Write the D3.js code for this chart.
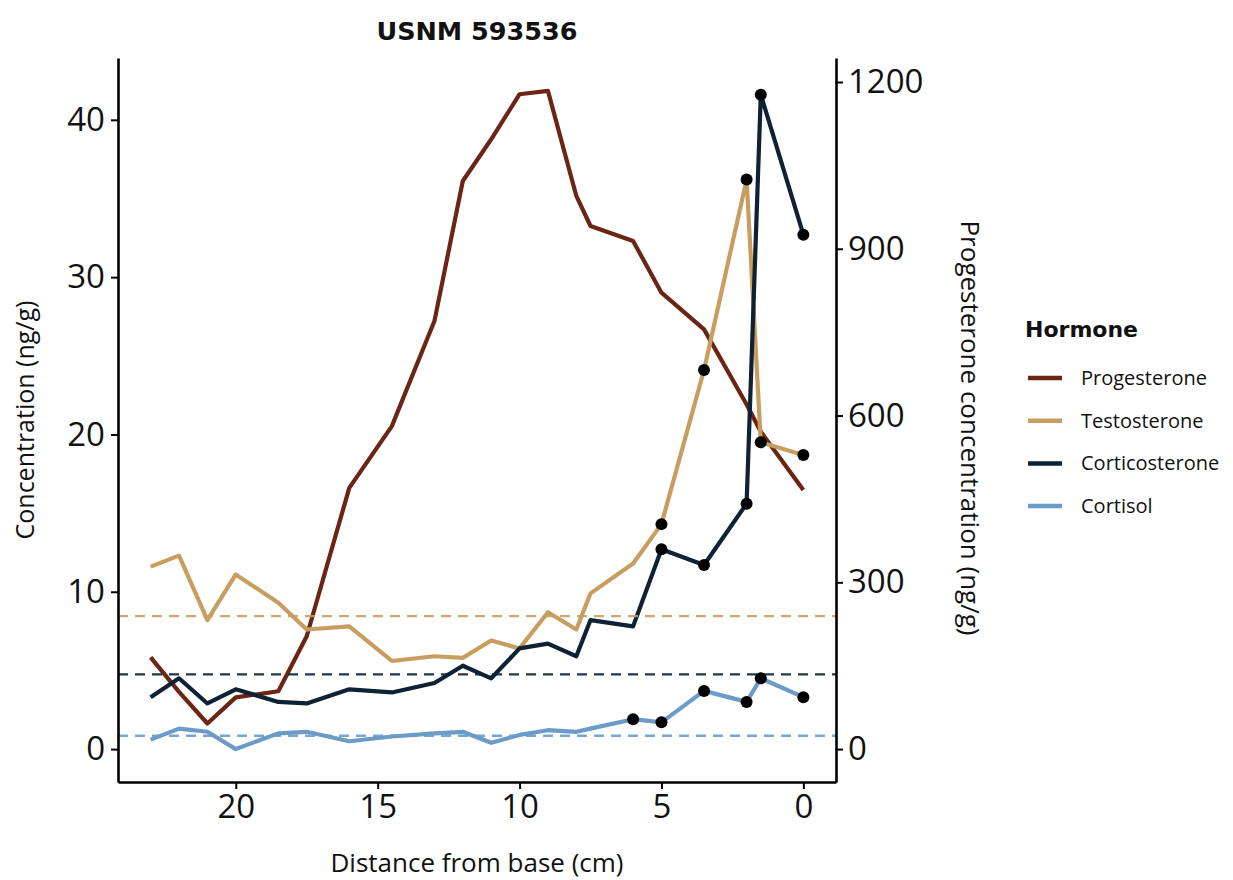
<!DOCTYPE html>
<html>
<head>
<meta charset="utf-8">
<script src="https://cdn.jsdelivr.net/npm/d3@7"></script>
<style>
  body { margin: 0; background: #fff; }
  text { font-family: "Open Sans", sans-serif; fill: #111; }
</style>
</head>
<body>
<svg id="chart" width="1233" height="880"></svg>
<script>
// Sample positions along the specimen (cm from base)
const distance = [23, 22, 21, 20, 18.5, 17.5, 16, 14.5, 13, 12, 11, 10, 9, 8, 7.5, 6, 5, 3.5, 2, 1.5, 0];

// Concentrations (ng/g). Progesterone is read on the right axis.
const progesterone = [165, 103, 46, 93, 104, 203, 470, 581, 770, 1022, 1097, 1178, 1184, 995, 941, 914, 821, 755, 620, 571, 466];
const testosterone = [11.6, 12.3, 8.2, 11.1, 9.3, 7.6, 7.8, 5.6, 5.9, 5.8, 6.9, 6.4, 8.7, 7.6, 9.9, 11.8, 14.3, 24.1, 36.2, 19.5, 18.7];
const corticosterone = [3.3, 4.5, 2.9, 3.8, 3.0, 2.9, 3.8, 3.6, 4.2, 5.3, 4.5, 6.4, 6.7, 5.9, 8.2, 7.8, 12.7, 11.7, 15.6, 41.6, 32.7];
const cortisol = [0.6, 1.3, 1.1, 0.0, 1.0, 1.1, 0.5, 0.8, 1.0, 1.1, 0.4, 0.9, 1.2, 1.1, 1.3, 1.9, 1.7, 3.7, 3.0, 4.5, 3.3];

// Samples flagged with a black dot
const testosteroneMarked = [5, 3.5, 2, 1.5, 0];
const corticosteroneMarked = [5, 3.5, 2, 1.5, 0];
const cortisolMarked = [6, 5, 3.5, 2, 1.5, 0];

// Dashed reference levels
const baselineHormones = ["Testosterone", "Corticosterone", "Cortisol"];
const baselineValues = [8.45, 4.75, 0.85];

const hormones = ["Progesterone", "Testosterone", "Corticosterone", "Cortisol"];
const hormoneColors = ["#6b2514", "#c89e60", "#0e2233", "#6c9bc8"];

const xTicks = [0, 5, 10, 15, 20];
const yTicks = [0, 10, 20, 30, 40];
const y2Ticks = [0, 300, 600, 900, 1200];

// Factor between the right (progesterone) axis and the left axis
const progesteroneScale = 28.3;

// Panel edges
const panel = { left: 118, right: 836, top: 58, bottom: 782 };

const svg = d3.select("#chart");
const color = d3.scaleOrdinal().domain(hormones).range(hormoneColors);

// ggplot style 5% expansion on both axes
function expand(extent) {
    const pad = (extent[1] - extent[0]) * 0.05;
    return [extent[0] - pad, extent[1] + pad];
}

const xDomain = expand(d3.extent(distance));
const x = d3.scaleLinear()
    .domain([xDomain[1], xDomain[0]])
    .range([panel.left, panel.right]);

const allLeft = testosterone.concat(corticosterone, cortisol, progesterone.map(v => v / progesteroneScale));
const yDomain = expand(d3.extent(allLeft));
const y = d3.scaleLinear()
    .domain(yDomain)
    .range([panel.bottom, panel.top]);

const y2 = d3.scaleLinear()
    .domain([yDomain[0] * progesteroneScale, yDomain[1] * progesteroneScale])
    .range([panel.bottom, panel.top]);

// Build one series per hormone
const series = [
    { name: "Progesterone", values: progesterone, scale: y2, marked: [] },
    { name: "Testosterone", values: testosterone, scale: y, marked: testosteroneMarked },
    { name: "Corticosterone", values: corticosterone, scale: y, marked: corticosteroneMarked },
    { name: "Cortisol", values: cortisol, scale: y, marked: cortisolMarked }
].map(s => ({
    ...s,
    points: distance.map((d, i) => ({ d, v: s.values[i] }))
}));

// Lines
const plot = svg.append("g");
series.forEach(s => {
    const line = d3.line()
        .x(p => x(p.d))
        .y(p => s.scale(p.v));
    plot.append("path")
        .datum(s.points)
        .attr("fill", "none")
        .attr("stroke", color(s.name))
        .attr("stroke-width", 4.2)
        .attr("stroke-linejoin", "round")
        .attr("d", line);
});

// Dashed baselines
plot.selectAll(".baseline")
    .data(baselineHormones)
    .enter()
    .append("line")
    .attr("class", "baseline")
    .attr("x1", panel.left)
    .attr("x2", panel.right)
    .attr("y1", (h, i) => y(baselineValues[i]))
    .attr("y2", (h, i) => y(baselineValues[i]))
    .attr("stroke", h => color(h))
    .attr("stroke-opacity", 0.9)
    .attr("stroke-width", 2.4)
    .attr("stroke-dasharray", "10,7");

// Black dots on flagged samples
series.forEach(s => {
    plot.selectAll(null)
        .data(s.points.filter(p => s.marked.includes(p.d)))
        .enter()
        .append("circle")
        .attr("cx", p => x(p.d))
        .attr("cy", p => s.scale(p.v))
        .attr("r", 6)
        .attr("fill", "#000");
});

// Axes
function styleAxis(g) {
    g.select(".domain").attr("stroke", "#000").attr("stroke-width", 2.6);
    g.selectAll(".tick line").attr("stroke", "#000").attr("stroke-width", 2);
    g.selectAll(".tick text")
        .attr("fill", "#111")
        .style("font-family", "'Open Sans', sans-serif")
        .style("font-size", "33px");
}

svg.append("g")
    .attr("transform", `translate(0,${panel.bottom})`)
    .call(d3.axisBottom(x).tickValues(xTicks).tickSize(7).tickSizeOuter(0).tickPadding(6))
    .call(styleAxis);

svg.append("g")
    .attr("transform", `translate(${panel.left},0)`)
    .call(d3.axisLeft(y).tickValues(yTicks).tickSize(7).tickSizeOuter(0).tickPadding(6))
    .call(styleAxis);

svg.append("g")
    .attr("transform", `translate(${panel.right},0)`)
    .call(d3.axisRight(y2).tickValues(y2Ticks).tickFormat(d3.format("d")).tickSize(7).tickSizeOuter(0).tickPadding(5))
    .call(styleAxis);

// Titles
svg.append("text")
    .attr("x", (panel.left + panel.right) / 2)
    .attr("y", 40)
    .attr("text-anchor", "middle")
    .style("font-family", "'DejaVu Sans', sans-serif")
    .style("font-weight", "bold")
    .style("font-size", "25.5px")
    .text("USNM 593536");

svg.append("text")
    .attr("x", (panel.left + panel.right) / 2)
    .attr("y", 872)
    .attr("text-anchor", "middle")
    .style("font-size", "26px")
    .text("Distance from base (cm)");

svg.append("text")
    .attr("transform", `translate(34,${(panel.top + panel.bottom) / 2}) rotate(-90)`)
    .attr("text-anchor", "middle")
    .style("font-size", "25px")
    .text("Concentration (ng/g)");

svg.append("text")
    .attr("transform", `translate(961,${(panel.top + panel.bottom) / 2 + 8}) rotate(90)`)
    .attr("text-anchor", "middle")
    .style("font-size", "26px")
    .text("Progesterone concentration (ng/g)");

// Legend
const legend = svg.append("g").attr("transform", "translate(1025,0)");

legend.append("text")
    .attr("x", 0)
    .attr("y", 337)
    .style("font-family", "'DejaVu Sans', sans-serif")
    .style("font-weight", "bold")
    .style("font-size", "22px")
    .text("Hormone");

const items = legend.selectAll(".item")
    .data(hormones)
    .enter()
    .append("g")
    .attr("class", "item")
    .attr("transform", (h, i) => `translate(0,${378 + i * 42.7})`);

items.append("line")
    .attr("x1", 3)
    .attr("x2", 37)
    .attr("stroke", h => color(h))
    .attr("stroke-width", 4.5);

items.append("text")
    .attr("x", 56)
    .attr("y", 7)
    .style("font-size", "20px")
    .text(h => h);
</script>
</body>
</html>
